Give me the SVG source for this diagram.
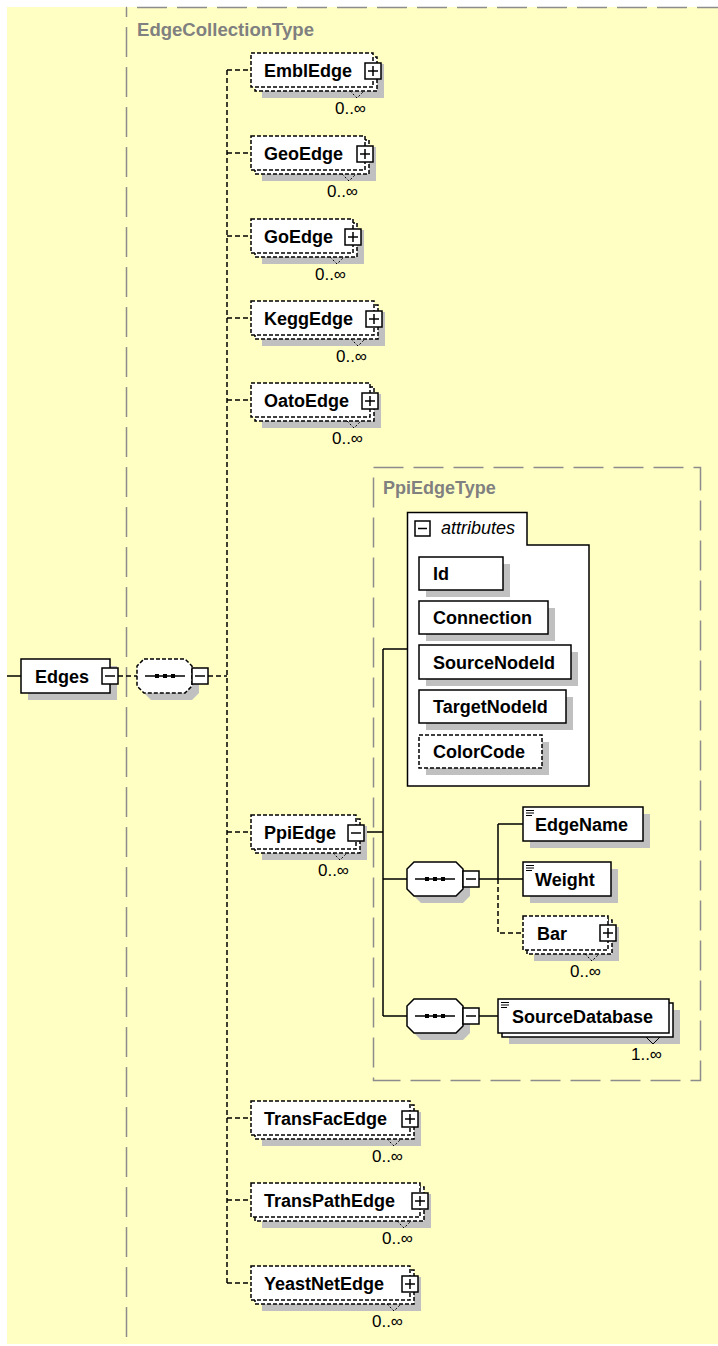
<svg xmlns="http://www.w3.org/2000/svg" width="718" height="1346" viewBox="0 0 718 1346">
<style>
.bg{fill:#FFFFC4}
.frame{fill:none;stroke:#8C8C8C;stroke-width:1.5;stroke-dasharray:30 10}
.ttl{font-family:"Liberation Sans",Arial,sans-serif;font-weight:bold;font-size:18px;fill:#808080}
.lbl{font-family:"Liberation Sans",Arial,sans-serif;font-weight:bold;font-size:18px;fill:#000}
.occ{font-family:"Liberation Sans",Arial,sans-serif;font-size:17px;fill:#000;text-anchor:end}
.att{font-family:"Liberation Sans",Arial,sans-serif;font-style:italic;font-size:18px;fill:#000}
.sh{fill:#C0C0C0}
.box{fill:#fff;stroke:#000;stroke-width:1.5}
.dbox{fill:#fff;stroke:#000;stroke-width:1.5;stroke-dasharray:4 2}
.ico{fill:#fff;stroke:#000;stroke-width:1.5}
.sym{fill:none;stroke:#000;stroke-width:1.5}
.mk{fill:none;stroke:#000;stroke-width:1}
.dmk{fill:none;stroke:#000;stroke-width:1;stroke-dasharray:2 2}
.ln{fill:none;stroke:#000;stroke-width:1.5}
.dln{fill:none;stroke:#000;stroke-width:1.5;stroke-dasharray:5 3}
.dot{fill:#000}
</style>
<rect class="bg" x="7" y="7" width="711" height="1337"/>

<g id="EdgeCollectionType">
<path class="frame" d="M126,7.5 H718" stroke-dashoffset="29"/>
<path class="frame" d="M126.5,7.5 V1346" stroke-dashoffset="20.5"/>
<text class="ttl" x="137" y="36" textLength="177" lengthAdjust="spacingAndGlyphs">EdgeCollectionType</text>
</g>

<g id="PpiEdgeType">
<rect class="frame" x="373.5" y="467.5" width="327" height="613"/>
<text class="ttl" x="383" y="494">PpiEdgeType</text>
</g>

<g id="connectors">
<path class="ln" d="M7,676 H21"/>
<path class="dln" d="M118,676 H137"/>
<path class="dln" d="M208,676 H227"/>
<path class="dln" d="M227,70 V1283"/>
<path class="dln" d="M227,70 H251 M227,153 H251 M227,236 H251 M227,318 H251 M227,400 H251 M227,832 H251 M227,1118 H251 M227,1200 H251 M227,1283 H251"/>
<path class="ln" d="M364,832 H383 M383,649 V1016 M383,649 H407 M383,879 H407 M383,1016 H407"/>
<path class="ln" d="M479,879 H498 M498,824 V879 M498,824 H523 M498,879 H523"/>
<path class="dln" d="M498,879 V933 H523"/>
<path class="ln" d="M479,1016 H498"/>
</g>

<g id="Edges">
<rect class="sh" x="28" y="666" width="89" height="34"/>
<rect class="box" x="21" y="659" width="89" height="34"/>
<text class="lbl" x="35" y="682.5">Edges</text>
<rect class="ico" x="102" y="668" width="16" height="16"/>
<path class="sym" d="M105,676 H115"/>
</g>

<g id="sequence1">
<path class="sh" d="M151,666 H192 L199,673 V693 L192,700 H151 L144,693 V673 Z"/>
<path class="dbox" d="M144,659 H185 L192,666 V686 L185,693 H144 L137,686 V666 Z"/>
<path class="sym" d="M145,676 H185"/>
<rect class="dot" x="155" y="674" width="4" height="4"/>
<rect class="dot" x="163" y="674" width="4" height="4"/>
<rect class="dot" x="171" y="674" width="4" height="4"/>
<rect class="ico" x="192" y="668" width="16" height="16"/>
<path class="sym" d="M195,676 H205"/>
</g>

<g id="EmblEdge">
<rect class="sh" x="262" y="64" width="122" height="34"/>
<rect class="dbox" x="255" y="57" width="122" height="34"/>
<rect class="dbox" x="251" y="53" width="122" height="34"/>
<text class="lbl" x="264" y="76.5">EmblEdge</text>
<rect class="ico" x="365" y="63" width="16" height="16"/>
<path class="sym" d="M368,71 H378 M373,66 V76"/>
<polyline class="dmk" points="350,91 357,98 364,91"/>
<text class="occ" x="366" y="114">0..∞</text>
</g>

<g id="GeoEdge">
<rect class="sh" x="262" y="147" width="114" height="34"/>
<rect class="dbox" x="255" y="140" width="114" height="34"/>
<rect class="dbox" x="251" y="136" width="114" height="34"/>
<text class="lbl" x="264" y="159.5">GeoEdge</text>
<rect class="ico" x="357" y="146" width="16" height="16"/>
<path class="sym" d="M360,154 H370 M365,149 V159"/>
<polyline class="dmk" points="342,174 349,181 356,174"/>
<text class="occ" x="358" y="197">0..∞</text>
</g>

<g id="GoEdge">
<rect class="sh" x="262" y="230" width="102" height="34"/>
<rect class="dbox" x="255" y="223" width="102" height="34"/>
<rect class="dbox" x="251" y="219" width="102" height="34"/>
<text class="lbl" x="264" y="242.5">GoEdge</text>
<rect class="ico" x="345" y="229" width="16" height="16"/>
<path class="sym" d="M348,237 H358 M353,232 V242"/>
<polyline class="dmk" points="330,257 337,264 344,257"/>
<text class="occ" x="346" y="280">0..∞</text>
</g>

<g id="KeggEdge">
<rect class="sh" x="262" y="312" width="123" height="34"/>
<rect class="dbox" x="255" y="305" width="123" height="34"/>
<rect class="dbox" x="251" y="301" width="123" height="34"/>
<text class="lbl" x="264" y="324.5">KeggEdge</text>
<rect class="ico" x="366" y="311" width="16" height="16"/>
<path class="sym" d="M369,319 H379 M374,314 V324"/>
<polyline class="dmk" points="351,339 358,346 365,339"/>
<text class="occ" x="367" y="362">0..∞</text>
</g>

<g id="OatoEdge">
<rect class="sh" x="262" y="394" width="119" height="34"/>
<rect class="dbox" x="255" y="387" width="119" height="34"/>
<rect class="dbox" x="251" y="383" width="119" height="34"/>
<text class="lbl" x="264" y="406.5">OatoEdge</text>
<rect class="ico" x="362" y="393" width="16" height="16"/>
<path class="sym" d="M365,401 H375 M370,396 V406"/>
<polyline class="dmk" points="347,421 354,428 361,421"/>
<text class="occ" x="363" y="444">0..∞</text>
</g>

<g id="attributes">
<path class="box" d="M407.5,512.5 H527 V545 H589 V786 H407.5 Z"/>
<rect class="ico" x="415" y="521" width="15" height="15"/>
<path class="sym" d="M418,528.5 H427"/>
<text class="att" x="441" y="534">attributes</text>
</g>

<g id="Id">
<rect class="sh" x="426" y="564" width="84" height="33"/>
<rect class="box" x="419" y="557" width="84" height="33"/>
<text class="lbl" x="433" y="580">Id</text>
</g>
<g id="Connection">
<rect class="sh" x="426" y="608" width="129" height="33"/>
<rect class="box" x="419" y="601" width="129" height="33"/>
<text class="lbl" x="433" y="624">Connection</text>
</g>
<g id="SourceNodeId">
<rect class="sh" x="426" y="652" width="152" height="34"/>
<rect class="box" x="419" y="645" width="152" height="34"/>
<text class="lbl" x="433" y="668.5">SourceNodeId</text>
</g>
<g id="TargetNodeId">
<rect class="sh" x="426" y="697" width="147" height="33"/>
<rect class="box" x="419" y="690" width="147" height="33"/>
<text class="lbl" x="433" y="713">TargetNodeId</text>
</g>
<g id="ColorCode">
<rect class="sh" x="426" y="742" width="123" height="33"/>
<rect class="dbox" x="419" y="735" width="123" height="33"/>
<text class="lbl" x="433" y="758">ColorCode</text>
</g>

<g id="PpiEdge">
<rect class="sh" x="262" y="826" width="105" height="34"/>
<rect class="dbox" x="255" y="819" width="105" height="34"/>
<rect class="dbox" x="251" y="815" width="105" height="34"/>
<text class="lbl" x="264" y="838.5">PpiEdge</text>
<rect class="ico" x="348" y="825" width="16" height="16"/>
<path class="sym" d="M351,833 H361"/>
<polyline class="dmk" points="333,853 340,860 347,853"/>
<text class="occ" x="349" y="876">0..∞</text>
</g>

<g id="sequence2">
<path class="sh" d="M421,869 H463 L470,876 V896 L463,903 H421 L414,896 V876 Z"/>
<path class="box" d="M414,862 H456 L463,869 V889 L456,896 H414 L407,889 V869 Z"/>
<path class="sym" d="M415,879 H455"/>
<rect class="dot" x="425" y="877" width="4" height="4"/>
<rect class="dot" x="433" y="877" width="4" height="4"/>
<rect class="dot" x="441" y="877" width="4" height="4"/>
<rect class="ico" x="463" y="871" width="16" height="16"/>
<path class="sym" d="M466,879 H476"/>
</g>

<g id="EdgeName">
<rect class="sh" x="530" y="814" width="120" height="34"/>
<rect class="box" x="523" y="807" width="120" height="34"/>
<path class="mk" d="M526,810.5 H534 M526,813 H534 M526,815.5 H532"/>
<text class="lbl" x="535" y="830.5">EdgeName</text>
</g>

<g id="Weight">
<rect class="sh" x="530" y="869" width="88" height="34"/>
<rect class="box" x="523" y="862" width="88" height="34"/>
<path class="mk" d="M526,865.5 H534 M526,868 H534 M526,870.5 H532"/>
<text class="lbl" x="535" y="885.5">Weight</text>
</g>

<g id="Bar">
<rect class="sh" x="534" y="927" width="85" height="34"/>
<rect class="dbox" x="527" y="920" width="85" height="34"/>
<rect class="dbox" x="523" y="916" width="85" height="34"/>
<text class="lbl" x="537" y="939.5">Bar</text>
<rect class="ico" x="600" y="925" width="16" height="16"/>
<path class="sym" d="M603,933 H613 M608,928 V938"/>
<polyline class="dmk" points="585,954 592,961 599,954"/>
<text class="occ" x="601" y="977">0..∞</text>
</g>

<g id="sequence3">
<path class="sh" d="M421,1006 H463 L470,1013 V1033 L463,1040 H421 L414,1033 V1013 Z"/>
<path class="box" d="M414,999 H456 L463,1006 V1026 L456,1033 H414 L407,1026 V1006 Z"/>
<path class="sym" d="M415,1016 H455"/>
<rect class="dot" x="425" y="1014" width="4" height="4"/>
<rect class="dot" x="433" y="1014" width="4" height="4"/>
<rect class="dot" x="441" y="1014" width="4" height="4"/>
<rect class="ico" x="463" y="1008" width="16" height="16"/>
<path class="sym" d="M466,1016 H476"/>
</g>

<g id="SourceDatabase">
<rect class="sh" x="509" y="1010" width="171" height="34"/>
<rect class="box" x="502" y="1003" width="171" height="34"/>
<rect class="box" x="498" y="999" width="171" height="34"/>
<path class="mk" d="M501,1002.5 H509 M501,1005 H509 M501,1007.5 H507"/>
<text class="lbl" x="512" y="1022.5">SourceDatabase</text>
<polyline class="mk" points="646,1037 653,1044 660,1037"/>
<text class="occ" x="662" y="1060">1..∞</text>
</g>

<g id="TransFacEdge">
<rect class="sh" x="262" y="1112" width="159" height="34"/>
<rect class="dbox" x="255" y="1105" width="159" height="34"/>
<rect class="dbox" x="251" y="1101" width="159" height="34"/>
<text class="lbl" x="264" y="1124.5">TransFacEdge</text>
<rect class="ico" x="402" y="1111" width="16" height="16"/>
<path class="sym" d="M405,1119 H415 M410,1114 V1124"/>
<polyline class="dmk" points="387,1139 394,1146 401,1139"/>
<text class="occ" x="403" y="1162">0..∞</text>
</g>

<g id="TransPathEdge">
<rect class="sh" x="262" y="1194" width="169" height="34"/>
<rect class="dbox" x="255" y="1187" width="169" height="34"/>
<rect class="dbox" x="251" y="1183" width="169" height="34"/>
<text class="lbl" x="264" y="1206.5">TransPathEdge</text>
<rect class="ico" x="412" y="1193" width="16" height="16"/>
<path class="sym" d="M415,1201 H425 M420,1196 V1206"/>
<polyline class="dmk" points="397,1221 404,1228 411,1221"/>
<text class="occ" x="413" y="1244">0..∞</text>
</g>

<g id="YeastNetEdge">
<rect class="sh" x="262" y="1277" width="159" height="34"/>
<rect class="dbox" x="255" y="1270" width="159" height="34"/>
<rect class="dbox" x="251" y="1266" width="159" height="34"/>
<text class="lbl" x="264" y="1289.5">YeastNetEdge</text>
<rect class="ico" x="402" y="1276" width="16" height="16"/>
<path class="sym" d="M405,1284 H415 M410,1279 V1289"/>
<polyline class="dmk" points="387,1304 394,1311 401,1304"/>
<text class="occ" x="403" y="1327">0..∞</text>
</g>
</svg>
